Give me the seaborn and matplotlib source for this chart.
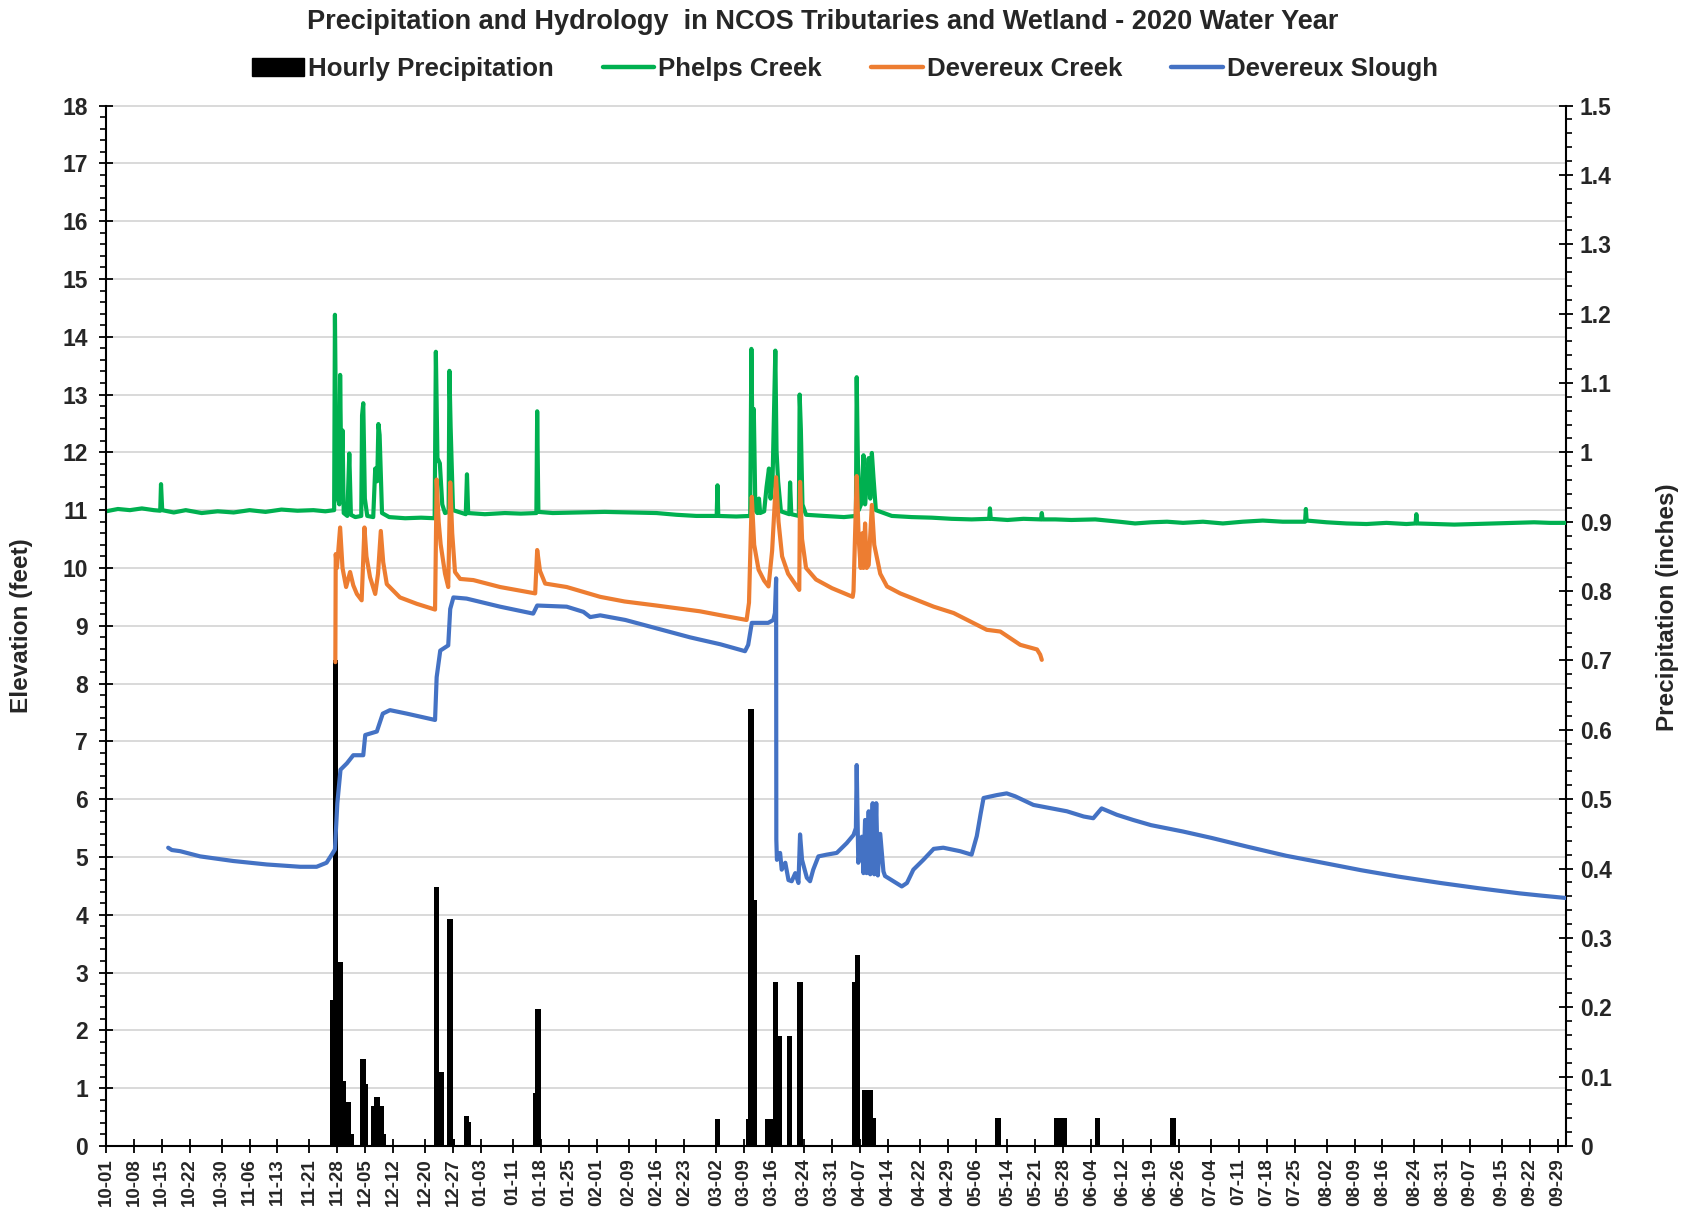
import datetime as dt
import numpy as np
import pandas as pd
import matplotlib
matplotlib.use("Agg")
import matplotlib.pyplot as plt
import seaborn as sns
from matplotlib.lines import Line2D
from matplotlib.patches import Patch
from matplotlib.ticker import MultipleLocator, FuncFormatter

# ---------------- data ----------------
TITLE = "Precipitation and Hydrology  in NCOS Tributaries and Wetland - 2020 Water Year"
PRECIP_LABEL = "Hourly Precipitation"
SERIES = ["Phelps Creek", "Devereux Creek", "Devereux Slough"]
COLORS = ["#00B050", "#ED7D31", "#4472C4"]
START = dt.date(2019, 10, 1)   # day 0 of the water year

TICK_LABELS = ["10-01", "10-08", "10-15", "10-22", "10-30", "11-06", "11-13", "11-21",
               "11-28", "12-05", "12-12", "12-20", "12-27", "01-03", "01-11", "01-18",
               "01-25", "02-01", "02-09", "02-16", "02-23", "03-02", "03-09", "03-16",
               "03-24", "03-31", "04-07", "04-14", "04-22", "04-29", "05-06", "05-14",
               "05-21", "05-28", "06-04", "06-12", "06-19", "06-26", "07-04", "07-11",
               "07-18", "07-25", "08-02", "08-09", "08-16", "08-24", "08-31", "09-07",
               "09-15", "09-22", "09-29"]

# (day since Oct 1, inches)
PRECIP = [(56.8, 0.21), (57.5, 0.70), (58.7, 0.265), (59.4, 0.094), (60.8, 0.064), (61.4, 0.017),
          (64.5, 0.125), (65.1, 0.089), (67.2, 0.058), (68.0, 0.07), (68.9, 0.058), (69.4, 0.017),
          (82.9, 0.374), (84.0, 0.107), (86.2, 0.327), (86.8, 0.01), (90.4, 0.043), (90.9, 0.035),
          (107.8, 0.077), (108.3, 0.197),
          (153.3, 0.039),
          (161.1, 0.039), (161.7, 0.63), (162.6, 0.354),
          (166.0, 0.039), (166.6, 0.039), (167.8, 0.237), (168.2, 0.158), (168.7, 0.158),
          (171.4, 0.158), (174.0, 0.237),
          (187.8, 0.236), (188.4, 0.275), (190.3, 0.08), (191.1, 0.08), (191.7, 0.08), (192.4, 0.04),
          (223.6, 0.04), (238.3, 0.04), (239.3, 0.04), (240.2, 0.04), (248.6, 0.04), (267.5, 0.04)]

# (day since Oct 1, elevation ft)
PHELPS = [(0, 10.98), (3, 11.02), (6, 11.0), (9, 11.03), (12, 11.0), (13.6, 10.99), (13.8, 11.45),
          (14.1, 11.0), (17, 10.96), (20, 11.0), (24, 10.95), (28, 10.98), (32, 10.96), (36, 11.0),
          (40, 10.97), (44, 11.01), (48, 10.99), (52, 11.0), (55, 10.98), (57.2, 11.0), (57.4, 14.38),
          (57.8, 11.3), (58.5, 11.1), (58.7, 13.34), (59.0, 11.6), (59.3, 12.38), (59.6, 10.95),
          (60.5, 10.9), (61.0, 11.98), (61.4, 10.92), (62.5, 10.88), (64.0, 10.9), (64.2, 12.64),
          (64.5, 12.85), (64.9, 11.2), (65.5, 10.9), (67.0, 10.88), (67.5, 11.72), (68.0, 11.5),
          (68.3, 12.49), (68.6, 12.3), (69.2, 10.95), (71, 10.88), (75, 10.86), (79, 10.87),
          (82.4, 10.86), (82.7, 13.74), (83.1, 11.9), (83.7, 11.81), (84.3, 11.1), (85.0, 10.95),
          (85.9, 10.97), (86.1, 13.41), (86.4, 12.44), (87.0, 11.0), (90.2, 10.93), (90.5, 11.62),
          (90.8, 10.95), (95, 10.93), (100, 10.95), (104, 10.94), (107.9, 10.95), (108.1, 12.71),
          (108.4, 10.97), (112, 10.95), (118, 10.96), (125, 10.97), (132, 10.96), (138, 10.95),
          (143, 10.92), (148, 10.9), (153.1, 10.9), (153.3, 11.43), (153.5, 10.9), (158, 10.89),
          (161.5, 10.9), (161.8, 13.79), (162.1, 12.0), (162.4, 12.75), (162.8, 11.0), (163.3, 10.95),
          (163.7, 11.2), (164.0, 10.95), (165.0, 10.98), (165.6, 11.4), (166.2, 11.72), (166.6, 11.2),
          (167.1, 11.5), (167.8, 13.76), (168.1, 12.03), (168.5, 11.5), (169.2, 10.98), (171.3, 10.93),
          (171.5, 11.48), (171.8, 10.93), (173.7, 10.9), (173.9, 13.0), (174.2, 12.4), (174.6, 11.1),
          (175.5, 10.92), (180, 10.9), (185, 10.88), (188.0, 10.9), (188.2, 13.3), (188.4, 12.3),
          (188.7, 11.0), (189.3, 11.1), (189.9, 11.95), (190.3, 11.1), (190.8, 11.5), (191.2, 11.9),
          (191.6, 11.2), (192.0, 11.99), (192.4, 11.57), (193.0, 11.0), (197, 10.9), (202, 10.88),
          (207, 10.87), (212, 10.85), (217, 10.84), (221.4, 10.85), (221.6, 11.03), (221.8, 10.85),
          (226, 10.83), (230, 10.85), (234.4, 10.84), (234.6, 10.95), (234.8, 10.84), (238, 10.84),
          (242, 10.83), (248, 10.84), (254, 10.8), (258, 10.77), (262, 10.79), (266, 10.8),
          (270, 10.78), (275, 10.8), (280, 10.77), (285, 10.8), (290, 10.82), (295, 10.8),
          (300.6, 10.8), (300.8, 11.02), (301.0, 10.82), (306, 10.79), (311, 10.77), (316, 10.76),
          (321, 10.78), (326, 10.76), (328.3, 10.77), (328.5, 10.93), (328.7, 10.77), (333, 10.76),
          (338, 10.75), (343, 10.76), (348, 10.77), (353, 10.78), (358, 10.79), (362, 10.78),
          (366, 10.78)]

DEV_CREEK = [(57.5, 8.37), (57.6, 10.24), (57.9, 10.0), (58.7, 10.7), (59.3, 10.0), (60.2, 9.67),
             (61.2, 9.93), (62.0, 9.7), (62.9, 9.55), (64.1, 9.44), (64.8, 10.7), (65.3, 10.2),
             (66.2, 9.84), (67.5, 9.55), (68.2, 9.9), (68.9, 10.64), (69.5, 10.1), (70.4, 9.72),
             (73.7, 9.49), (77.9, 9.38), (82.5, 9.28), (82.9, 11.53), (83.4, 10.8), (83.9, 10.41),
             (85.0, 9.9), (85.8, 9.67), (86.3, 11.48), (86.8, 10.6), (87.5, 9.93), (88.8, 9.81),
             (92.1, 9.79), (98.8, 9.67), (107.6, 9.56), (108.1, 10.31), (108.8, 9.95), (110.1, 9.73),
             (115.5, 9.67), (123.9, 9.5), (130, 9.42), (138, 9.35), (148.9, 9.25), (155, 9.17),
             (160.6, 9.1), (161.2, 9.4), (161.9, 11.23), (162.5, 10.4), (163.6, 9.97), (165.0, 9.78),
             (166.1, 9.68), (167.0, 10.3), (168.0, 11.57), (168.6, 10.8), (169.5, 10.2), (171.0, 9.9),
             (173.8, 9.62), (174.0, 11.49), (174.5, 10.5), (175.5, 10.0), (178, 9.8), (182, 9.65),
             (187.2, 9.5), (187.4, 9.6), (188.2, 11.59), (188.7, 10.5), (189.2, 10.0), (189.6, 10.6),
             (189.9, 10.0), (190.3, 10.77), (190.7, 10.0), (191.2, 10.05), (192.0, 11.09),
             (192.6, 10.4), (194.1, 9.9), (195.8, 9.68), (199.1, 9.56), (207.5, 9.33), (212.5, 9.22),
             (220.8, 8.93), (224.2, 8.9), (229.2, 8.67), (233.4, 8.59), (234.2, 8.5), (234.6, 8.41)]

DEV_SLOUGH = [(15.6, 5.16), (16.5, 5.12), (18.6, 5.1), (23.6, 5.01), (31.9, 4.93), (40.3, 4.87),
              (48.7, 4.83), (52.8, 4.83), (55.3, 4.9), (56.6, 5.04), (57.4, 5.13), (58.0, 5.93),
              (58.8, 6.51), (60.4, 6.62), (62.0, 6.76), (64.5, 6.76), (65.0, 7.11), (67.9, 7.17),
              (69.4, 7.48), (71.2, 7.54), (75.4, 7.48), (82.5, 7.37), (82.9, 8.11), (83.8, 8.57),
              (85.8, 8.66), (86.3, 9.29), (87.1, 9.49), (90.4, 9.47), (98.8, 9.33), (107.1, 9.21),
              (108.1, 9.35), (115.5, 9.33), (119.7, 9.24), (121.4, 9.15), (123.9, 9.18), (130.2, 9.1),
              (138.3, 8.95), (146.4, 8.8), (148.9, 8.76), (154, 8.68), (160.2, 8.56), (161.0, 8.67),
              (161.9, 9.05), (166.0, 9.05), (167.3, 9.1), (167.7, 9.22), (168.0, 9.82), (168.05, 5.3),
              (168.2, 4.95), (169.0, 5.07), (169.4, 4.78), (170.3, 4.9), (171.1, 4.6), (171.9, 4.58),
              (172.8, 4.72), (173.6, 4.55), (174.0, 5.39), (174.5, 4.95), (175.7, 4.64), (176.5, 4.58),
              (177.3, 4.78), (178.6, 5.01), (180.7, 5.04), (183.2, 5.07), (185.7, 5.24), (187.4, 5.38),
              (188.0, 5.5), (188.2, 6.59), (188.6, 4.9), (189.5, 5.35), (189.9, 4.72), (190.3, 5.64),
              (190.7, 4.72), (191.2, 5.79), (191.6, 4.7), (192.2, 5.93), (192.6, 4.7), (193.1, 5.93),
              (193.5, 4.68), (194.1, 5.4), (194.9, 4.75), (195.3, 4.67), (197.4, 4.58), (199.5, 4.49),
              (200.8, 4.55), (202.4, 4.78), (204.9, 4.95), (207.5, 5.14), (209.9, 5.16), (214.1, 5.1),
              (217.0, 5.04), (218.3, 5.36), (219.3, 5.76), (220.0, 6.02), (223.3, 6.07), (225.8, 6.1),
              (227.9, 6.05), (232.5, 5.9), (240.9, 5.79), (245.1, 5.7), (247.5, 5.67), (249.6, 5.84),
              (253.4, 5.73), (257.5, 5.64), (262, 5.55), (270, 5.44), (277.1, 5.33), (286, 5.18),
              (295.9, 5.02), (305, 4.9), (314.7, 4.77), (324, 4.66), (334.5, 4.55), (344, 4.46),
              (354.4, 4.37), (360, 4.33), (366, 4.29)]

# ---------------- tables ----------------
lines_df = pd.concat(
    [pd.DataFrame(pts, columns=["day", "ft"]).assign(series=name)
     for name, pts in zip(SERIES, [PHELPS, DEV_CREEK, DEV_SLOUGH])],
    ignore_index=True)
precip_df = pd.DataFrame(PRECIP, columns=["day", "inches"])


def label_to_day(lbl):
    m, d = int(lbl[:2]), int(lbl[3:])
    year = START.year if m >= 10 else START.year + 1
    return (dt.date(year, m, d) - START).days


tick_pos = [label_to_day(l) for l in TICK_LABELS]

# ---------------- style ----------------
sns.set_theme(style="white")
plt.rcParams["font.family"] = ["Liberation Sans", "DejaVu Sans"]
plt.rcParams["font.weight"] = "bold"
plt.rcParams["axes.labelweight"] = "bold"

fig = plt.figure(figsize=(16.9, 12.16), dpi=100)
fig.patch.set_facecolor("white")
ax = fig.add_axes([0.0627, 0.0576, 0.8639, 0.8556])
ax2 = ax.twinx()
ax.set_zorder(2)
ax2.set_zorder(1)
ax.patch.set_visible(False)

ax.set_xlim(0, 366)
ax.set_ylim(0, 18)
ax2.set_ylim(0, 1.5)
ax.yaxis.set_major_locator(MultipleLocator(1))
ax.yaxis.set_minor_locator(MultipleLocator(0.2))
ax2.yaxis.set_major_locator(MultipleLocator(0.1))
ax2.yaxis.set_minor_locator(MultipleLocator(0.02))
ax2.yaxis.set_major_formatter(FuncFormatter(lambda v, _: f"{v:g}"))

# horizontal gridlines at the elevation ticks, drawn beneath the bars
for t in ax.get_yticks():
    if 0 < t <= 18:
        ax2.plot([0, 1], [t, t], transform=ax.get_yaxis_transform(),
                 color="#D9D9D9", lw=1.4, zorder=0.5, clip_on=False)

# precipitation bars (secondary axis)
ax2.bar(precip_df["day"], precip_df["inches"], width=1.4, color="black",
        linewidth=0, zorder=2)

# hydrology lines
sns.lineplot(data=lines_df, x="day", y="ft", hue="series", hue_order=SERIES,
             palette=COLORS, estimator=None, sort=False, linewidth=3.0,
             legend=False, ax=ax)

ax.set_xlabel("")
ax.set_ylabel("")
ax2.set_ylabel("")
ax.set_xticks(tick_pos)
ax.set_xticklabels(TICK_LABELS, rotation=90, fontsize=13.5, fontweight="bold")

for a in (ax, ax2):
    a.spines["top"].set_visible(False)
    for s in ("left", "right", "bottom"):
        a.spines[s].set_color("black")
        a.spines[s].set_linewidth(1.5)
ax.spines["right"].set_visible(False)
ax2.spines["left"].set_visible(False)
ax2.spines["bottom"].set_visible(False)

ax.tick_params(axis="x", which="major", direction="inout", length=10, width=1.3,
               color="black", pad=4, bottom=True)
ax.tick_params(axis="y", which="major", direction="inout", length=10, width=1.3,
               color="black", pad=8, labelsize=16.5, left=True)
ax.tick_params(axis="y", which="minor", direction="out", length=4.5, width=1.2,
               color="black", left=True)
ax2.tick_params(axis="y", which="major", direction="inout", length=10, width=1.3,
                color="black", pad=5, labelsize=16.5, right=True)
ax2.tick_params(axis="y", which="minor", direction="out", length=4.5, width=1.2,
                color="black", right=True)
for lab in ax.get_yticklabels() + ax2.get_yticklabels():
    lab.set_fontweight("bold")

# labels and title
fig.text(0.0128, 0.4852, "Elevation (feet)", rotation=90, ha="center", va="center",
         fontsize=17.5, fontweight="bold")
fig.text(0.9864, 0.501, "Precipitation (inches)", rotation=90, ha="center", va="center",
         fontsize=17.5, fontweight="bold")
fig.text(0.487, 0.982, TITLE, ha="center", va="center", fontsize=19.5, fontweight="bold")

handles = [Patch(facecolor="black", edgecolor="black")] + \
          [Line2D([0], [0], color=c, lw=3.2) for c in COLORS]
fig.legend(handles, [PRECIP_LABEL] + SERIES, loc="center", bbox_to_anchor=(0.5, 0.943),
           ncol=4, frameon=False, handlelength=2.0, handletextpad=0.15,
           columnspacing=1.9, prop={"size": 18.6, "weight": "bold"})

fig.savefig("out.png", dpi=100, facecolor="white")
